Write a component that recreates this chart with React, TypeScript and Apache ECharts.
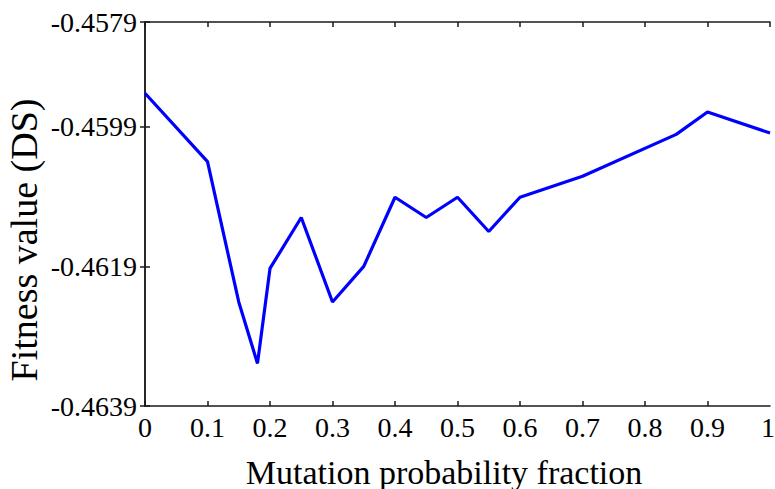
import React, { useEffect, useRef } from "react";
import * as echarts from "echarts";

const mutationFractions = [0, 0.1, 0.15, 0.18, 0.2, 0.25, 0.3, 0.35, 0.4, 0.45, 0.5, 0.55, 0.6, 0.7, 0.85, 0.9, 1.0];
const fitnessValues = [-0.45942, -0.4604, -0.46241, -0.46329, -0.46193, -0.4612, -0.46241, -0.4619, -0.46091, -0.4612, -0.46091, -0.4614, -0.46091, -0.46061, -0.46001, -0.45969, -0.45999];

const yMin = -0.4639;
const yMax = -0.4584;
const yTickValues = [-0.4639, -0.4619, -0.4599, -0.4584];
const yTickLabels = ["-0.4639", "-0.4619", "-0.4599", "-0.4579"];
const xLastTickLabel = "1";

const xTitle = "Mutation probability fraction";
const yTitle = "Fitness value (DS)";

const FONT = "'Liberation Serif', 'Times New Roman', serif";

export default function App() {
  const ref = useRef<HTMLDivElement>(null);
  useEffect(() => {
    if (!ref.current) return;
    const chart = echarts.init(ref.current, null, { renderer: "svg" });
    const lineStyle = { color: "#1a1a1a", width: 1.5 };
    const yLabel = (v: number) => {
      let best = 0;
      let bd = Infinity;
      yTickValues.forEach((t, i) => {
        const d = Math.abs(t - v);
        if (d < bd) { bd = d; best = i; }
      });
      return yTickLabels[best];
    };
    chart.setOption({
      animation: false,
      backgroundColor: "#ffffff",
      grid: { left: 145, right: 5, top: 22, bottom: 83, containLabel: false, outerBoundsMode: "none" },
      graphic: [
        {
          type: "text",
          x: 444,
          y: 472,
          style: { text: xTitle, fontFamily: FONT, fontSize: 34, fill: "#000", align: "center", verticalAlign: "middle" },
        },
        {
          type: "text",
          x: 24,
          y: 240,
          rotation: Math.PI / 2,
          style: { text: yTitle, fontFamily: FONT, fontSize: 38, fill: "#000", align: "center", verticalAlign: "middle" },
        },
        {
          type: "text",
          x: 775,
          y: 413,
          style: { text: xLastTickLabel, fontFamily: FONT, fontSize: 28, fill: "#000", align: "right", verticalAlign: "top" },
        },
      ],
      xAxis: [
        {
          type: "value",
          min: 0,
          max: 1,
          interval: 0.1,
          position: "bottom",
          axisLine: { show: true, lineStyle },
          axisTick: { show: true, inside: true, length: 5, lineStyle },
          axisLabel: {
            fontFamily: FONT,
            fontSize: 28,
            color: "#000",
            margin: 7,
            showMaxLabel: false,
            formatter: (v: number) => (v >= 0.999 ? "" : String(Math.round(v * 10) / 10)),
          },
          splitLine: { show: false },
        },
        {
          type: "value",
          min: 0,
          max: 1,
          interval: 0.1,
          position: "top",
          axisLine: { show: true, lineStyle },
          axisTick: { show: true, inside: true, length: 5, lineStyle },
          axisLabel: { show: false },
          splitLine: { show: false },
        },
      ],
      yAxis: [
        {
          type: "value",
          min: yMin,
          max: yMax,
          position: "left",
          axisLine: { show: true, lineStyle },
          axisTick: { show: true, inside: true, length: 5, lineStyle, customValues: yTickValues },
          axisLabel: {
            fontFamily: FONT,
            fontSize: 28,
            color: "#000",
            margin: 8,
            customValues: yTickValues,
            formatter: yLabel,
          },
          splitLine: { show: false },
        },
        {
          type: "value",
          min: yMin,
          max: yMax,
          position: "right",
          axisLine: { show: true, lineStyle },
          axisTick: { show: true, inside: true, length: 5, lineStyle, customValues: yTickValues },
          axisLabel: { show: false, customValues: yTickValues },
          splitLine: { show: false },
        },
      ],
      series: [
        {
          type: "line",
          xAxisIndex: 0,
          yAxisIndex: 0,
          data: mutationFractions.map((x, i) => [x, fitnessValues[i]]),
          showSymbol: false,
          symbol: "none",
          lineStyle: { color: "#0000ff", width: 3.2 },
          clip: true,
        },
      ],
    });
    return () => chart.dispose();
  }, []);
  return <div ref={ref} style={{ width: 775, height: 489, position: "absolute", left: 0, top: 0 }} />;
}
